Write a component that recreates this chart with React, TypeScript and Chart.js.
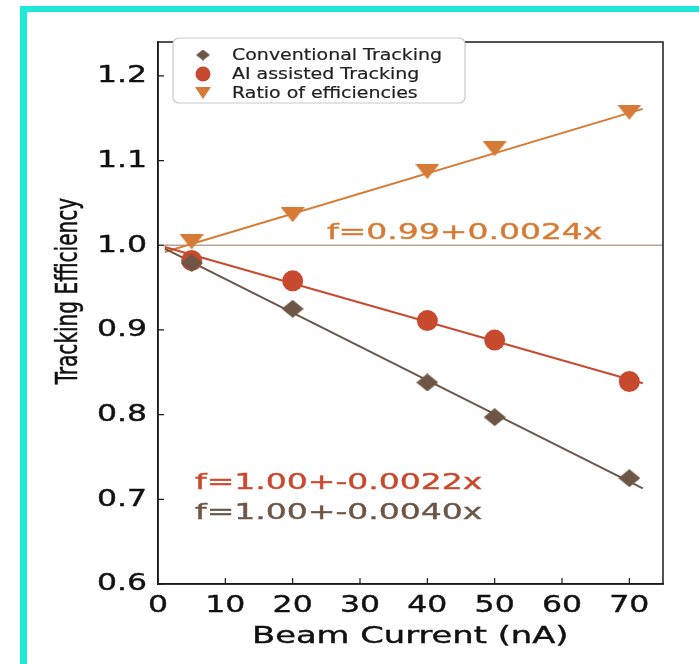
import React, { useEffect, useRef } from 'react';
import { Chart, registerables } from 'chart.js';
Chart.register(...registerables);

// ---------- data ----------
const beamCurrent = [5, 20, 40, 50, 70];
const conventional = [0.979, 0.925, 0.838, 0.797, 0.725];
const aiAssisted = [0.982, 0.958, 0.911, 0.888, 0.839];
const ratio = [1.004, 1.036, 1.087, 1.114, 1.157];

const fitX = [1, 72];
const fitConventional = [0.996, 0.713];
const fitAI = [0.998, 0.837];
const fitRatio = [0.992, 1.161];

const unityX = [0, 75];
const unityY = [1, 1];

const xTicks = [0, 10, 20, 30, 40, 50, 60, 70];
const yTicks = [0.6, 0.7, 0.8, 0.9, 1.0, 1.1, 1.2];

const seriesLabels = ['Conventional Tracking', 'AI assisted Tracking', 'Ratio of efficiencies'];
const fitLabels = ['f=1.00+-0.0040x', 'f=1.00+-0.0022x', 'f=0.99+0.0024x'];
const xTitle = 'Beam Current (nA)';
const yTitle = 'Tracking Efficiency';

const BROWN = '#6d5646';
const RED = '#c74a2f';
const ORANGE = '#d67b35';
const UNITY = '#b5a596';
const AXIS = '#1a1a1a';

function makeDiamond(w: number, h: number, color: string) {
  const c = document.createElement('canvas');
  c.width = w; c.height = h;
  const g = c.getContext('2d')!;
  g.fillStyle = color;
  g.beginPath();
  g.moveTo(w / 2, 0); g.lineTo(w, h / 2); g.lineTo(w / 2, h); g.lineTo(0, h / 2);
  g.closePath(); g.fill();
  return c;
}
function makeTriDown(w: number, h: number, color: string) {
  const c = document.createElement('canvas');
  c.width = w; c.height = h;
  const g = c.getContext('2d')!;
  g.fillStyle = color;
  g.beginPath();
  g.moveTo(0, 0); g.lineTo(w, 0); g.lineTo(w / 2, h);
  g.closePath(); g.fill();
  return c;
}

const pts = (xs: number[], ys: number[]) => xs.map((x, i) => ({ x, y: ys[i] }));

export default function App() {
  const ref = useRef<HTMLCanvasElement>(null);
  useEffect(() => {
    const diamond = makeDiamond(22, 18, BROWN);
    const tri = makeTriDown(24, 15, ORANGE);
    const legDiamond = makeDiamond(14, 11, BROWN);
    const legTri = makeTriDown(16, 12, ORANGE);

    const decor = {
      id: 'decor',
      afterDraw(chart: any) {
        const { ctx, chartArea: a, scales } = chart;
        const xs = scales.x, ys = scales.y;
        ctx.save();
        // frame
        ctx.strokeStyle = AXIS;
        ctx.lineWidth = 1.5;
        ctx.strokeRect(a.left, a.top, a.right - a.left, a.bottom - a.top);
        // inside ticks
        ctx.beginPath();
        xs.ticks.forEach((t: any) => {
          const px = xs.getPixelForValue(t.value);
          ctx.moveTo(px, a.bottom); ctx.lineTo(px, a.bottom - 6);
        });
        ys.ticks.forEach((t: any) => {
          const py = ys.getPixelForValue(t.value);
          ctx.moveTo(a.left, py); ctx.lineTo(a.left + 6, py);
        });
        ctx.lineWidth = 1.2;
        ctx.stroke();

        const drawWide = (t: string, x: number, y: number, color: string, size: number, sx: number, align: CanvasTextAlign = 'left', weight = 0.4) => {
          ctx.save();
          ctx.font = `${size}px "DejaVu Sans"`;
          ctx.fillStyle = color;
          ctx.strokeStyle = color;
          ctx.lineWidth = weight;
          ctx.textBaseline = 'middle';
          ctx.textAlign = align;
          ctx.translate(x, y);
          ctx.scale(sx, 1);
          ctx.fillText(t, 0, 0);
          if (weight > 0) ctx.strokeText(t, 0, 0);
          ctx.restore();
        };

        // tick labels (from the library's scale ticks)
        xs.ticks.forEach((t: any) => {
          drawWide(String(t.label), xs.getPixelForValue(t.value), 606, '#111', 23, 1.37, 'center');
        });
        ys.ticks.forEach((t: any) => {
          drawWide(String(t.label), 147, ys.getPixelForValue(t.value) + 0.5, '#111', 23, 1.37, 'right');
        });

        // fit annotations
        drawWide(fitLabels[2], xs.getPixelForValue(25.1), ys.getPixelForValue(1.0144), ORANGE, 22, 1.5);
        drawWide(fitLabels[1], xs.getPixelForValue(5.5), ys.getPixelForValue(0.7186), RED, 22, 1.5);
        drawWide(fitLabels[0], xs.getPixelForValue(5.5), ys.getPixelForValue(0.6834), BROWN, 22, 1.5);

        // legend
        const lx = 173, ly = 38, lw = 292, lh = 65;
        ctx.beginPath();
        ctx.roundRect(lx, ly, lw, lh, 6);
        ctx.fillStyle = '#ffffff';
        ctx.fill();
        ctx.strokeStyle = '#c9c9c9';
        ctx.lineWidth = 1.2;
        ctx.stroke();
        const rows = [55, 74, 93];
        const mx = 203;
        ctx.drawImage(legDiamond, mx - 7, rows[0] - 5.5);
        ctx.beginPath();
        ctx.arc(mx, rows[1], 7.5, 0, Math.PI * 2);
        ctx.fillStyle = RED;
        ctx.fill();
        ctx.drawImage(legTri, mx - 8, rows[2] - 6);
        seriesLabels.forEach((t, i) => drawWide(t, 232, rows[i] + 1, '#222', 16.5, 1.15, 'left', 0.2));

        // axis titles
        drawWide(xTitle, 252, 637, '#111', 22.5, 1.5);
        ctx.save();
        ctx.translate(69, 291);
        ctx.rotate(-Math.PI / 2);
        ctx.scale(0.72, 1);
        ctx.font = '31px "Liberation Sans Narrow", "DejaVu Sans Condensed", sans-serif';
        ctx.fillStyle = '#111';
        ctx.strokeStyle = '#111';
        ctx.lineWidth = 0.5;
        ctx.textAlign = 'center';
        ctx.textBaseline = 'middle';
        ctx.fillText(yTitle, 0, 0);
        ctx.strokeText(yTitle, 0, 0);
        ctx.restore();

        ctx.restore();
      },
    };

    const chart = new Chart(ref.current!, {
      type: 'scatter',
      data: {
        datasets: [
          { label: seriesLabels[0], data: pts(beamCurrent, conventional), pointStyle: diamond as any, pointRadius: 10, backgroundColor: BROWN, borderColor: BROWN, order: 0 },
          { label: seriesLabels[1], data: pts(beamCurrent, aiAssisted), pointStyle: 'circle', pointRadius: 10.5, pointBorderWidth: 0, backgroundColor: RED, borderColor: RED, order: 0 },
          { label: seriesLabels[2], data: pts(beamCurrent, ratio), pointStyle: tri as any, pointRadius: 10, backgroundColor: ORANGE, borderColor: ORANGE, order: 0 },
          { label: 'fit conv', data: pts(fitX, fitConventional), showLine: true, pointRadius: 0, borderColor: BROWN, borderWidth: 2, order: 1 },
          { label: 'fit ai', data: pts(fitX, fitAI), showLine: true, pointRadius: 0, borderColor: RED, borderWidth: 2, order: 1 },
          { label: 'fit ratio', data: pts(fitX, fitRatio), showLine: true, pointRadius: 0, borderColor: ORANGE, borderWidth: 2, order: 1 },
          { label: 'unity', data: pts(unityX, unityY), showLine: true, pointRadius: 0, borderColor: UNITY, borderWidth: 1.5, order: 2 },
        ],
      },
      options: {
        animation: false,
        responsive: false,
        events: [],
        layout: { padding: { left: 0, top: 42, right: 36, bottom: 0 } },
        plugins: { legend: { display: false }, tooltip: { enabled: false } },
        scales: {
          x: {
            type: 'linear', min: 0, max: 75,
            grid: { display: false },
            border: { display: true, color: AXIS, width: 1.5 },
            ticks: { display: false, callback: (v: any) => String(v) },
            afterBuildTicks: (s: any) => { s.ticks = xTicks.map((v) => ({ value: v })); },
            afterFit: (s: any) => { s.height = 80; },
          },
          y: {
            type: 'linear', min: 0.6, max: 1.24,
            grid: { display: false },
            border: { display: true, color: AXIS, width: 1.5 },
            ticks: { display: false, callback: (v: any) => Number(v).toFixed(1) },
            afterBuildTicks: (s: any) => { s.ticks = yTicks.map((v) => ({ value: v })); },
            afterFit: (s: any) => { s.width = 158; },
          },
        },
      },
      plugins: [decor],
    });
    return () => chart.destroy();
  }, []);

  return (
    <div style={{ position: 'absolute', left: 0, top: 0, width: 699, height: 664, overflow: 'hidden', background: '#fff' }}>
      <canvas ref={ref} width={699} height={664} style={{ position: 'absolute', left: 0, top: 0, width: 699, height: 664 }} />
      <div style={{ position: 'absolute', left: 20, top: 6, width: 720, height: 720, borderTop: '6px solid #1ee8d6', borderLeft: '7px solid #1ee8d6', pointerEvents: 'none' }} />
    </div>
  );
}
